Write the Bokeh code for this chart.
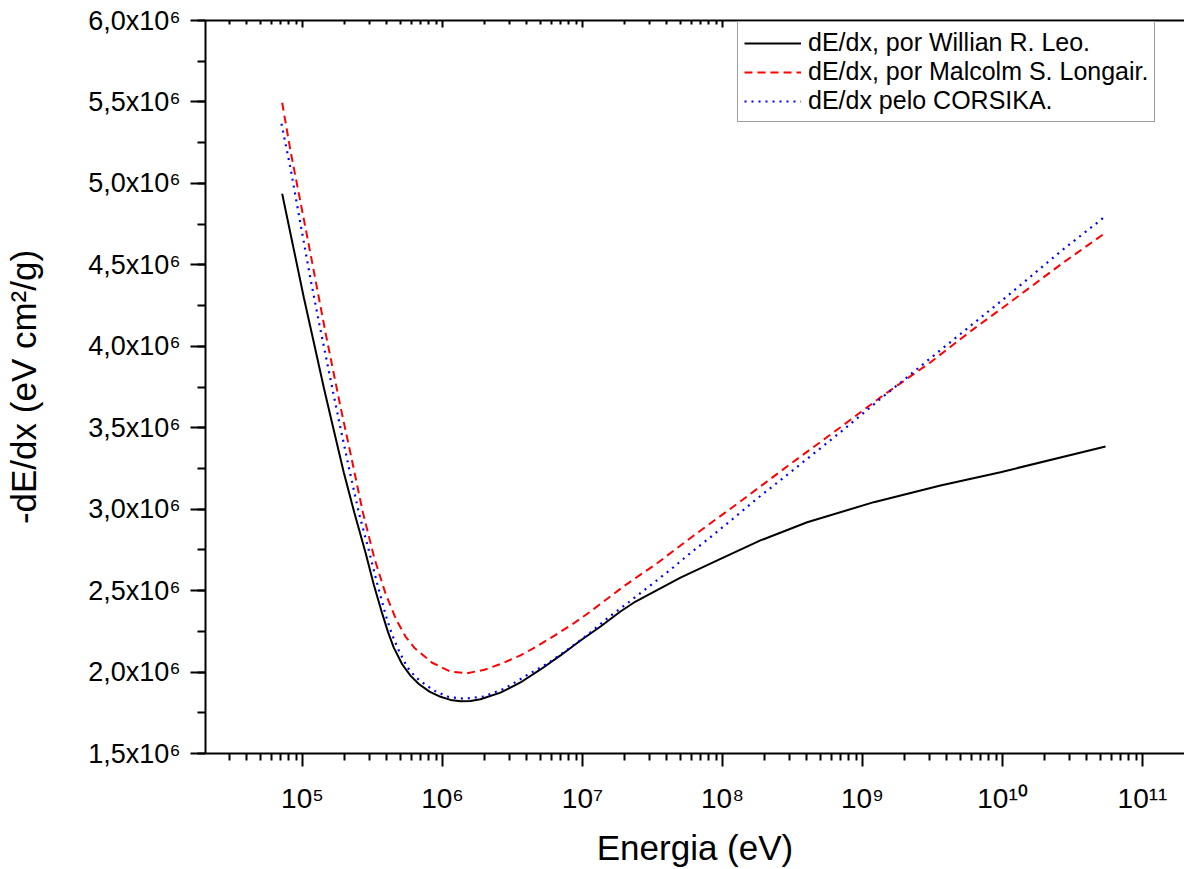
from bokeh.plotting import figure
from bokeh.models import (FixedTicker, LogAxis, Legend, LegendItem,
                          SingleIntervalTicker, Range1d, ColumnDataSource)
from bokeh.embed import file_html
from bokeh.resources import INLINE

# ---- data (energy in eV, -dE/dx in units of 10^6 eV cm^2/g) ----
energy_leo = [7.16e4, 8.55e4, 1.021e5, 1.205e5, 1.419e5, 1.675e5, 1.972e5, 2.350e5,
              2.818e5, 3.228e5, 3.707e5, 4.083e5, 4.487e5, 5.152e5, 5.902e5, 6.776e5,
              8.072e5, 9.683e5, 1.140e6, 1.346e6, 1.585e6, 1.866e6, 2.594e6, 3.606e6,
              5.012e6, 6.966e6, 9.683e6, 1.346e7, 1.866e7, 2.393e7, 3.062e7, 5.012e7,
              9.683e7, 1.866e8, 4.027e8, 1.205e9, 3.606e9, 9.683e9, 5.445e10]
dedx_leo = [4.936, 4.619, 4.301, 4.023, 3.747, 3.483, 3.225, 2.976,
            2.734, 2.538, 2.360, 2.245, 2.150, 2.048, 1.978, 1.927,
            1.880, 1.848, 1.829, 1.821, 1.822, 1.833, 1.874, 1.936,
            2.016, 2.102, 2.194, 2.280, 2.372, 2.433, 2.482, 2.580,
            2.695, 2.808, 2.920, 3.043, 3.145, 3.227, 3.385]

energy_longair = [7.16e4, 8.20e4, 9.42e4, 1.140e5, 1.459e5, 1.866e5, 2.203e5, 2.698e5,
                  3.266e5, 3.917e5, 4.667e5, 5.445e5, 6.310e5, 8.433e5, 1.140e6, 1.500e6,
                  1.995e6, 2.624e6, 3.606e6, 4.742e6, 6.310e6, 8.433e6, 1.122e7, 1.972e7,
                  3.451e7, 6.138e7, 1.321e8, 3.062e8, 6.966e8, 1.346e9, 3.062e9, 6.237e9,
                  1.016e10, 2.742e10, 5.445e10]
dedx_longair = [5.495, 5.202, 4.936, 4.570, 4.085, 3.630, 3.342, 2.981,
                2.697, 2.482, 2.323, 2.218, 2.148, 2.057, 2.003, 1.993,
                2.014, 2.051, 2.102, 2.159, 2.224, 2.292, 2.367, 2.527,
                2.671, 2.834, 3.043, 3.278, 3.503, 3.687, 3.902, 4.107,
                4.240, 4.516, 4.697]

energy_corsika = [7.08e4, 8.20e4, 9.84e4, 1.153e5, 1.321e5, 1.517e5, 1.807e5, 2.168e5,
                  2.535e5, 2.979e5, 3.420e5, 3.917e5, 4.355e5, 4.875e5, 5.598e5, 6.412e5,
                  7.568e5, 9.057e5, 1.109e6, 1.419e6, 1.972e6, 2.742e6, 3.319e6, 4.027e6,
                  5.598e6, 7.980e6, 1.109e7, 1.542e7, 2.143e7, 2.979e7, 4.178e7, 5.808e7,
                  8.204e7, 1.186e8, 1.816e8, 3.062e8, 6.966e8, 1.346e9, 3.228e9, 1.016e10,
                  2.742e10, 5.445e10]
dedx_corsika = [5.366, 5.096, 4.717, 4.393, 4.134, 3.878, 3.557, 3.237,
                2.973, 2.746, 2.542, 2.353, 2.231, 2.132, 2.030, 1.970,
                1.921, 1.878, 1.847, 1.836, 1.850, 1.897, 1.938, 1.982,
                2.051, 2.143, 2.235, 2.337, 2.429, 2.525, 2.623, 2.726,
                2.828, 2.941, 3.073, 3.227, 3.473, 3.678, 3.943, 4.289,
                4.598, 4.799]

series_labels = ["dE/dx, por Willian R. Leo.",
                 "dE/dx, por Malcolm S. Longair.",
                 "dE/dx pelo CORSIKA."]

x_tick_values = [1e5, 1e6, 1e7, 1e8, 1e9, 1e10, 1e11]
x_tick_labels = ["10\u2075", "10\u2076", "10\u2077", "10\u2078", "10\u2079",
                 "10\u00b9\u2070", "10\u00b9\u00b9"]
y_tick_values = [1.5e6, 2.0e6, 2.5e6, 3.0e6, 3.5e6, 4.0e6, 4.5e6, 5.0e6, 5.5e6, 6.0e6]
y_tick_labels = ["1,5x10\u2076", "2,0x10\u2076", "2,5x10\u2076", "3,0x10\u2076",
                 "3,5x10\u2076", "4,0x10\u2076", "4,5x10\u2076", "5,0x10\u2076",
                 "5,5x10\u2076", "6,0x10\u2076"]

FONT = "Liberation Sans"

p = figure(width=1184, height=869, x_axis_type="log",
           x_range=Range1d(20286, 1.995e11), y_range=Range1d(1.5e6, 6.0e6),
           output_backend="svg", toolbar_location=None,
           min_border_left=205, min_border_right=0, min_border_top=20,
           min_border_bottom=116)
p.xgrid.visible = False
p.ygrid.visible = False
p.outline_line_color = None

src_leo = ColumnDataSource(dict(x=energy_leo, y=[v * 1e6 for v in dedx_leo]))
src_lon = ColumnDataSource(dict(x=energy_longair, y=[v * 1e6 for v in dedx_longair]))
src_cor = ColumnDataSource(dict(x=energy_corsika, y=[v * 1e6 for v in dedx_corsika]))

r1 = p.line("x", "y", source=src_leo, line_color="black", line_width=2)
r2 = p.line("x", "y", source=src_lon, line_color="red", line_width=2, line_dash="8 5")
r3 = p.line("x", "y", source=src_cor, line_color="blue", line_width=2.2, line_dash="2 5")

minor_x = [m * 10 ** d for d in range(4, 11) for m in range(2, 10)]

xa = p.xaxis[0]
xa.ticker = FixedTicker(ticks=x_tick_values, minor_ticks=minor_x)
xa.major_label_overrides = dict(zip(x_tick_values, x_tick_labels))
xa.axis_line_width = 2
xa.major_tick_line_width = 2
xa.minor_tick_line_width = 2
xa.major_tick_in = 0
xa.major_tick_out = 13
xa.minor_tick_in = 0
xa.minor_tick_out = 7
xa.major_label_text_font = FONT
xa.major_label_text_font_size = "28px"
xa.major_label_text_color = "black"
xa.major_label_standoff = 16
xa.axis_label = "Energia (eV)"
xa.axis_label_text_font = FONT
xa.axis_label_text_font_size = "35px"
xa.axis_label_text_font_style = "normal"
xa.axis_label_text_color = "black"
xa.axis_label_standoff = 11

ya = p.yaxis[0]
ya.ticker = SingleIntervalTicker(interval=5e5, num_minor_ticks=2)
ya.major_label_overrides = dict(zip(y_tick_values, y_tick_labels))
ya.axis_line_width = 2
ya.major_tick_line_width = 2
ya.minor_tick_line_width = 2
ya.major_tick_in = 0
ya.major_tick_out = 15
ya.minor_tick_in = 0
ya.minor_tick_out = 8
ya.major_label_text_font = FONT
ya.major_label_text_font_size = "27px"
ya.major_label_text_color = "black"
ya.major_label_standoff = 10
ya.axis_label = "-dE/dx (eV cm\u00b2/g)"
ya.axis_label_text_font = FONT
ya.axis_label_text_font_size = "35px"
ya.axis_label_text_font_style = "normal"
ya.axis_label_text_color = "black"
ya.axis_label_standoff = 42

top = LogAxis(ticker=FixedTicker(ticks=x_tick_values, minor_ticks=minor_x),
              major_tick_in=7, major_tick_out=0, minor_tick_in=4, minor_tick_out=0,
              major_tick_line_width=2, minor_tick_line_width=2, axis_line_width=2,
              major_label_text_font_size="0px",
              major_label_overrides={v: "" for v in x_tick_values})
p.add_layout(top, "above")

legend = Legend(items=[LegendItem(label=series_labels[0], renderers=[r1]),
                       LegendItem(label=series_labels[1], renderers=[r2]),
                       LegendItem(label=series_labels[2], renderers=[r3])],
                location=(532, 631), margin=0, padding=6, spacing=0,
                glyph_width=57, glyph_height=28, label_height=28,
                label_standoff=7, label_text_font=FONT,
                label_text_font_size="25px", label_text_color="black",
                border_line_color="#404040", border_line_width=1,
                background_fill_color="white", background_fill_alpha=1)
p.add_layout(legend)

open("out.html", "w").write(file_html(p, INLINE))
